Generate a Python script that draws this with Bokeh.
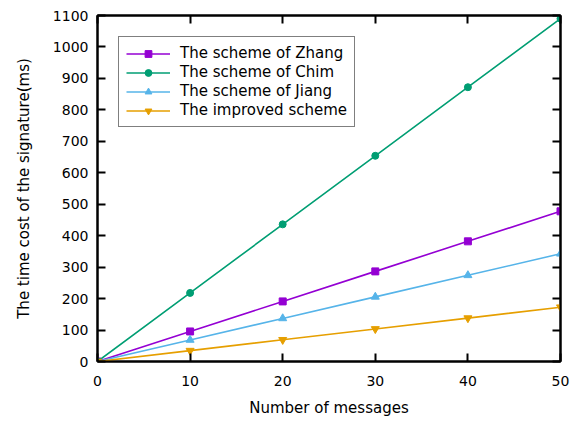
from bokeh.plotting import figure
from bokeh.models import Range1d, LinearAxis, FixedTicker, Legend, LegendItem
from bokeh.embed import file_html
from bokeh.resources import INLINE

messages = [0, 10, 20, 30, 40, 50]
zhang = [0, 95.5, 191, 286.5, 382, 477.5]
chim = [0, 218, 436, 654, 872, 1090]
jiang = [0, 68.5, 137, 205.5, 274, 342.5]
improved = [0, 34.5, 69, 103.5, 138, 172.5]

x_ticks = [0, 10, 20, 30, 40, 50]
y_ticks = [0, 100, 200, 300, 400, 500, 600, 700, 800, 900, 1000, 1100]

FONT = "DejaVu Sans"

p = figure(width=570, height=421, output_backend="svg", toolbar_location=None,
           x_range=Range1d(0, 50), y_range=Range1d(0, 1100),
           min_border_left=97, min_border_right=10, min_border_top=15, min_border_bottom=60)
p.xgrid.visible = False
p.ygrid.visible = False
p.outline_line_color = "black"
p.outline_line_width = 2
p.background_fill_color = "white"
p.border_fill_color = "white"

def style_axis(ax, show_labels=True):
    ax.axis_line_color = "black"
    ax.axis_line_width = 2
    ax.major_tick_in = 8
    ax.major_tick_out = 0
    ax.major_tick_line_width = 2
    ax.minor_tick_line_color = None
    ax.major_label_text_font = FONT
    ax.major_label_text_font_size = "14px"
    ax.major_label_text_color = "black" if show_labels else None
    ax.axis_label_text_font = FONT
    ax.axis_label_text_font_size = "15px"
    ax.axis_label_text_font_style = "normal"
    ax.axis_label_text_color = "black"

p.xaxis.ticker = FixedTicker(ticks=x_ticks)
p.yaxis.ticker = FixedTicker(ticks=y_ticks)
style_axis(p.xaxis[0])
style_axis(p.yaxis[0])
p.xaxis.axis_label = "Number of messages"
p.yaxis.axis_label = "The time cost of the signature(ms)"
p.xaxis.major_label_standoff = 14
p.yaxis.major_label_standoff = 9
p.xaxis.axis_label_standoff = 10
p.yaxis.axis_label_standoff = 17

top = LinearAxis(ticker=FixedTicker(ticks=x_ticks))
right = LinearAxis(ticker=FixedTicker(ticks=y_ticks))
style_axis(top, False)
style_axis(right, False)
top.major_label_text_font_size = "0px"
right.major_label_text_font_size = "0px"
top.major_label_standoff = 0
right.major_label_standoff = 0
p.add_layout(top, "above")
p.add_layout(right, "right")

series = [
    ("The scheme of Zhang", zhang, "#9400d3", "square", 7),
    ("The scheme of Chim", chim, "#009e73", "circle", 7),
    ("The scheme of Jiang", jiang, "#56b4e9", "triangle", 8),
    ("The improved scheme", improved, "#e69f00", "inverted_triangle", 8),
]
items = []
for name, ys, color, marker, size in series:
    l = p.line(messages, ys, line_color=color, line_width=1.6)
    s = p.scatter(messages, ys, marker=marker, size=size, fill_color=color, line_color=color)
    items.append(LegendItem(label=name, renderers=[l, s]))

legend = Legend(items=items, location="top_left", margin=21)
legend.label_text_font = FONT
legend.label_text_font_size = "15px"
legend.label_text_color = "black"
legend.glyph_width = 44
legend.glyph_height = 17
legend.label_height = 17
legend.label_standoff = 10
legend.spacing = 1
legend.padding = 7
legend.border_line_color = "black"
legend.border_line_width = 1.5
legend.background_fill_alpha = 1
p.add_layout(legend, "center")

open("out.html", "w").write(file_html(p, INLINE))
